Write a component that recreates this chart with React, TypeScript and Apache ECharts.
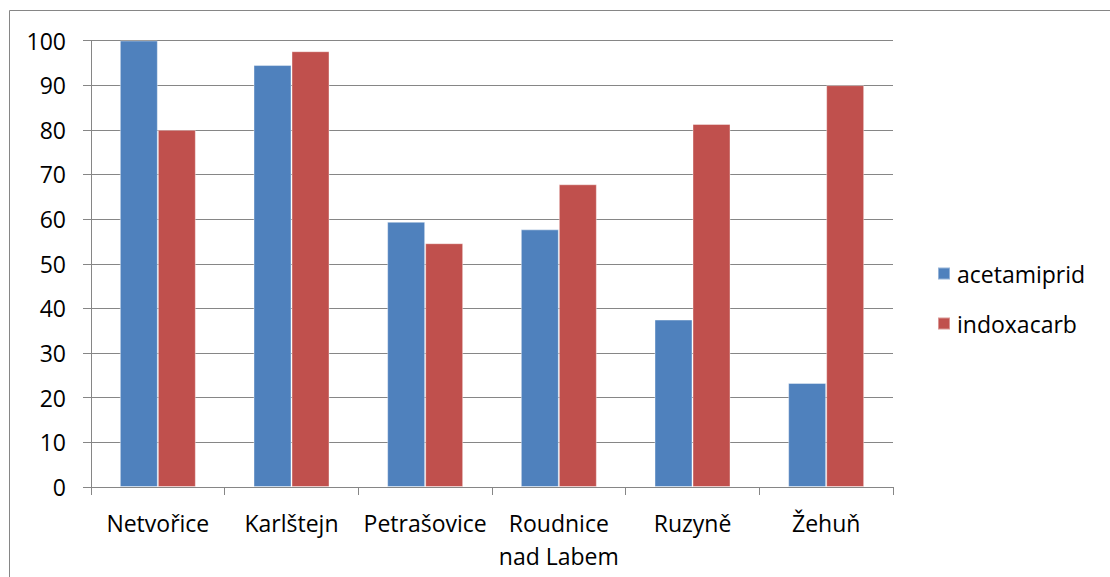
import React, { useEffect, useRef } from "react";
import * as echarts from "echarts";

const categories = ["Netvořice", "Karlštejn", "Petrašovice", "Roudnice\nnad Labem", "Ruzyně", "Žehuň"];
const acetamiprid = [100, 94.5, 59.4, 57.7, 37.5, 23.3];
const indoxacarb = [80, 97.6, 54.6, 67.8, 81.3, 90];
const seriesNames = ["acetamiprid", "indoxacarb"];
const colors = ["#4F81BD", "#C0504D"];

const FONT = "'Open Sans', sans-serif";
const GRAY = "#868686";

export default function App() {
  const ref = useRef<HTMLDivElement>(null);
  useEffect(() => {
    if (!ref.current) return;
    const chart = echarts.init(ref.current, null, { renderer: "svg" });
    chart.setOption({
      animation: false,
      backgroundColor: "#ffffff",
      textStyle: { fontFamily: FONT },
      graphic: [
        {
          type: "rect",
          shape: { x: 9.5, y: 10.5, width: 1300, height: 800 },
          style: { fill: "none", stroke: GRAY, lineWidth: 1 },
          silent: true,
        },
      ],
      legend: {
        orient: "vertical",
        left: 937,
        top: 262,
        padding: 0,
        itemWidth: 12,
        itemHeight: 12,
        itemGap: 27,
        icon: "rect",
        textStyle: { fontFamily: FONT, fontSize: 23, color: "#000", lineHeight: 23, padding: [0, 0, 0, 2] },
        data: seriesNames,
      },
      grid: { left: 91, top: 40.5, right: 217, bottom: 90, containLabel: false },
      xAxis: {
        type: "category",
        data: categories,
        axisLine: { show: true, lineStyle: { color: GRAY, width: 1 } },
        axisTick: { show: true, length: 8, alignWithLabel: false, lineStyle: { color: GRAY } },
        axisLabel: {
          interval: 0,
          margin: 19,
          fontFamily: FONT,
          fontSize: 23,
          lineHeight: 33,
          color: "#000",
        },
      },
      yAxis: {
        type: "value",
        min: 0,
        max: 100,
        interval: 10,
        axisLine: { show: true, lineStyle: { color: GRAY, width: 1 } },
        axisTick: { show: true, length: 8, lineStyle: { color: GRAY } },
        splitLine: { show: true, lineStyle: { color: GRAY, width: 1 } },
        axisLabel: { margin: 25, fontFamily: FONT, fontSize: 23, color: "#000" },
      },
      series: [
        {
          name: seriesNames[0],
          type: "bar",
          data: acetamiprid,
          barWidth: 38,
          barGap: "0%",
          itemStyle: { color: colors[0], borderColor: "rgba(255,255,255,0.4)", borderWidth: 1 },
        },
        {
          name: seriesNames[1],
          type: "bar",
          data: indoxacarb,
          barWidth: 38,
          barGap: "0%",
          itemStyle: { color: colors[1], borderColor: "rgba(255,255,255,0.4)", borderWidth: 1 },
        },
      ],
    });
    return () => chart.dispose();
  }, []);
  return (
    <div
      ref={ref}
      style={{ position: "absolute", left: 0, top: 0, width: 1110, height: 577 }}
    />
  );
}
